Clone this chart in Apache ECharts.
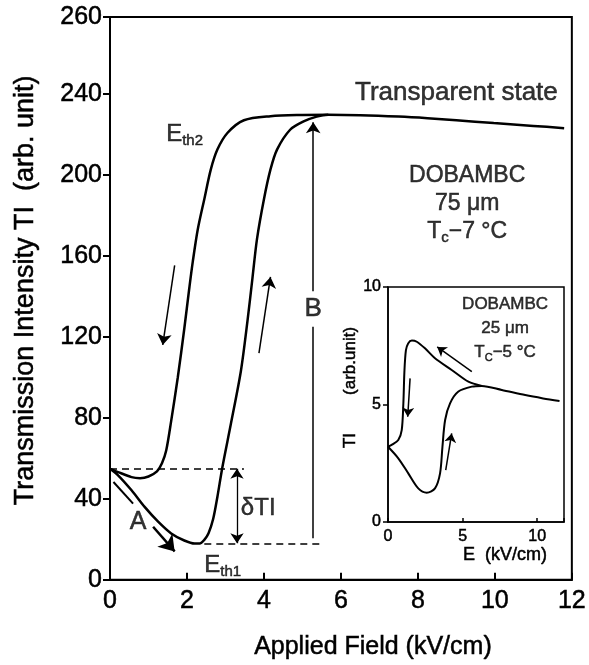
<!DOCTYPE html>
<html>
<head>
<meta charset="utf-8">
<script src="https://cdn.jsdelivr.net/npm/echarts@6/dist/echarts.min.js"></script>
<style>
html, body { margin: 0; padding: 0; background: #fff; }
#chart { width: 589px; height: 665px; }
</style>
</head>
<body>
<div id="chart"></div>
<script>
// main loop, 75 um cell: applied field (kV/cm) vs TI (arb. unit)
var rise_field = [0, 0.21, 0.56, 0.9, 1.25, 1.59, 1.93, 2.2, 2.33, 2.45, 2.56, 2.68, 2.79, 2.92, 3.14, 3.4, 3.57, 3.7, 3.82, 4.0, 4.17, 4.34, 4.68, 5.03, 5.37, 5.67, 6.5, 7.5, 8.25, 9.0, 9.97, 11.0, 11.8];
var rise_ti = [54.8, 51.6, 44.2, 36, 28.7, 22.9, 19.4, 17.9, 17.9, 19.7, 23, 30, 40.9, 55.6, 76.9, 103, 127.5, 148.8, 168.4, 188, 202.7, 212.5, 222.3, 226.4, 228.8, 229.7, 229.5, 228.8, 228, 227, 225.6, 224.2, 223.1];
var fall_field = [5.67, 5.0, 4.17, 3.48, 3.05, 2.79, 2.62, 2.45, 2.28, 2.15, 2.06, 1.93, 1.76, 1.59, 1.46, 1.35, 1.22, 1.0, 0.78, 0.56, 0.21, 0];
var fall_ti = [229.7, 229.6, 229, 227, 220.7, 212.5, 202.7, 188, 173, 157, 144, 124, 99.8, 78.5, 63.8, 57.5, 53.5, 51, 50.2, 50.7, 53.2, 54.8];

// inset, 25 um cell: E (kV/cm) vs TI
var in_rise_E = [0, 0.69, 1.36, 2.03, 2.6, 3.15, 3.49, 3.65, 3.83, 4.16, 4.72, 5.62, 6.29, 7.63, 9.2, 10.4, 11.5];
var in_rise_ti = [3.2, 2.71, 2.07, 1.43, 1.25, 1.43, 2.07, 3.2, 4.34, 5.05, 5.55, 5.76, 5.79, 5.62, 5.4, 5.26, 5.15];
var in_fall_E = [6.29, 5.39, 4.27, 3.15, 2.48, 1.93, 1.6, 1.35, 1.2, 1.1, 1.03, 0.92, 0.69, 0.3, 0];
var in_fall_ti = [5.79, 5.97, 6.47, 6.97, 7.39, 7.67, 7.72, 7.6, 7.3, 6.4, 5.05, 3.91, 3.49, 3.3, 3.2];

// tick labels (the printed top label reads 260)
var main_y_labels = ['0', '40', '80', '120', '160', '200', '240', '260'];
var in_x_labels = [0, 5, 10];

// guide segments [x1, y1, x2, y2] in data units
var dashed_levels = [[0, 54.8, 3.48, 54.8], [2.45, 18, 5.55, 18]];
var thin_arrows = [[1.68, 155.3, 1.37, 116], [3.87, 112, 4.17, 149.6], [5.28, 142.5, 5.28, 226]];
var thin_plain = [[5.28, 20.5, 5.28, 125]];
var dti_span = [[3.3, 54.8, 3.3, 18]];
var a_tail = [[0.09, 48.3, 0.6, 37.6]];
var a_head = [[1.12, 26.2, 1.68, 14]];
var in_arrows = [[5.62, 6.4, 3.3, 7.45], [1.48, 6.11, 1.32, 4.48], [3.87, 2.21, 4.27, 3.77]];

// annotations
var main_note_text = ['Transparent state', 'DOBAMBC\n75 μm\nT{s|c}−7 °C', 'A', 'B', 'δTI', 'E{s|th2}', 'E{s|th1}'];
var main_note_at = [[9.0, 240.5], [9.28, 186], [0.73, 28.7], [5.28, 133.6], [3.4, 35.5], [1.46, 219.8], [2.45, 7.1]];
var in_note_text = ['DOBAMBC\n25 μm\nT{s|C}−5 °C'];
var in_note_at = [[7.85, 8.26]];

var font = '"Liberation Sans", Arial, sans-serif';
// the scanned lettering is a little heavier than the regular face
var ink = {color: '#000', fontFamily: font, textBorderColor: '#000', textBorderWidth: 0.5};

function zip(xs, ys)
{
    return xs.map((x, i) => [x, ys[i]]);
}

function segs(list)
{
    return list.map((s) => ({coords: [[s[0], s[1]], [s[2], s[3]]]}));
}

function seg_series(list, axis, sym, size, width, dash)
{
    return {
	type: 'lines',
	coordinateSystem: 'cartesian2d',
	xAxisIndex: axis, yAxisIndex: axis,
	silent: true,
	symbol: sym,
	symbolSize: size,
	lineStyle: {color: '#000', width: width, opacity: 1, type: dash || 'solid', curveness: 0},
	data: segs(list),
	z: 4
    };
}

function curve(xs, ys, axis, width)
{
    return {
	type: 'line',
	xAxisIndex: axis, yAxisIndex: axis,
	data: zip(xs, ys),
	showSymbol: false,
	symbol: 'none',
	smooth: 0.3,
	silent: true,
	lineStyle: {color: '#000', width: width},
	z: 3
    };
}

var main_note_look = [
    {fontSize: 26},
    {fontSize: 23, lineHeight: 28},
    {fontSize: 25},
    {fontSize: 26},
    {fontSize: 24, position: 'right', distance: 0, align: 'left'},
    {fontSize: 24, position: 'right', distance: 0, align: 'left'},
    {fontSize: 24, position: 'right', distance: 0, align: 'left'}
];

function notes(texts, at, looks, axis, base)
{
    return {
	type: 'scatter',
	xAxisIndex: axis, yAxisIndex: axis,
	symbolSize: 0,
	silent: true,
	z: 6,
	label: Object.assign({
	    show: true, position: 'inside',
	    fontSize: base, lineHeight: base + 4,
	    rich: {s: Object.assign({fontSize: Math.round(base * 0.62), lineHeight: 14, verticalAlign: 'bottom'}, ink)}
	}, ink),
	data: texts.map((t, i) => ({
	    value: at[i],
	    label: Object.assign({formatter: t}, looks[i] || {})
	}))
    };
}

var axis_line = {lineStyle: {color: '#000', width: 2}};

var chart = echarts.init(document.getElementById('chart'));

chart.setOption({
    animation: false,
    backgroundColor: '#fff',
    grid: [
	{left: 110, right: 13, top: 17, bottom: 81, show: true, borderColor: '#000', borderWidth: 2, backgroundColor: '#fff'},
	{left: 388, right: 25, top: 287, bottom: 143, show: true, borderColor: '#000', borderWidth: 1.5, backgroundColor: '#fff'}
    ],
    xAxis: [
	{
	    gridIndex: 0, type: 'value', min: 0, max: 12, interval: 2,
	    axisLine: axis_line,
	    axisTick: {inside: true, length: 7, lineStyle: {color: '#000', width: 2}},
	    axisLabel: Object.assign({fontSize: 25, margin: 9}, ink),
	    splitLine: {show: false},
	    name: 'Applied Field (kV/cm)', nameLocation: 'middle', nameGap: 55,
	    nameTextStyle: Object.assign({fontSize: 25, padding: [0, 0, 0, 64]}, ink)
	},
	{
	    gridIndex: 1, type: 'value', min: 0, max: 11.8, interval: 5,
	    axisLine: {lineStyle: {color: '#000', width: 1.5}},
	    axisTick: {inside: true, length: 4, lineStyle: {color: '#000', width: 1.5}},
	    axisLabel: Object.assign({fontSize: 16, margin: 7,
		formatter: (v) => in_x_labels.indexOf(v) >= 0 ? String(v) : ''}, ink),
	    splitLine: {show: false},
	    name: 'E  (kV/cm)', nameLocation: 'middle', nameGap: 24,
	    nameTextStyle: Object.assign({fontSize: 18, padding: [0, 0, 0, 58]}, ink)
	}
    ],
    yAxis: [
	{
	    gridIndex: 0, type: 'value', min: 0, max: 278, interval: 40,
	    axisLine: axis_line,
	    axisTick: {inside: false, length: 7, lineStyle: {color: '#000', width: 2}},
	    axisLabel: Object.assign({fontSize: 25, margin: 8,
		formatter: (v, i) => main_y_labels[i]}, ink),
	    splitLine: {show: false},
	    name: 'Transmission Intensity TI  (arb. unit)', nameLocation: 'middle', nameGap: 71,
	    nameTextStyle: Object.assign({fontSize: 27, padding: [0, 0, 0, 16]}, ink)
	},
	{
	    gridIndex: 1, type: 'value', min: 0, max: 10, interval: 5,
	    axisLine: {lineStyle: {color: '#000', width: 1.5}},
	    axisTick: {inside: false, length: 5, lineStyle: {color: '#000', width: 1.5}},
	    axisLabel: Object.assign({fontSize: 16, margin: 7}, ink),
	    splitLine: {show: false},
	    name: 'TI{g|}(arb.unit)', nameLocation: 'middle', nameGap: 19,
	    nameTextStyle: Object.assign({fontSize: 17, padding: [0, 0, 0, 34],
		rich: {g: {width: 38}}}, ink)
	}
    ],
    series: [
	curve(rise_field, rise_ti, 0, 2.5),
	curve(fall_field, fall_ti, 0, 2.5),
	curve(in_rise_E, in_rise_ti, 1, 2),
	curve(in_fall_E, in_fall_ti, 1, 2),
	seg_series(dashed_levels, 0, ['none', 'none'], 0, 1.5, [7, 5]),
	seg_series(thin_arrows, 0, ['none', 'arrow'], 11, 1.5),
	seg_series(thin_plain, 0, ['none', 'none'], 0, 1.5),
	seg_series(dti_span, 0, ['arrow', 'arrow'], 10, 1.3),
	seg_series(a_tail, 0, ['none', 'none'], 0, 2),
	seg_series(a_head, 0, ['none', 'arrow'], 15, 2.5),
	seg_series(in_arrows, 1, ['none', 'arrow'], 9, 1.5),
	notes(main_note_text, main_note_at, main_note_look, 0, 24),
	notes(in_note_text, in_note_at, [{fontSize: 17, lineHeight: 24}], 1, 17)
    ]
});
</script>
</body>
</html>
